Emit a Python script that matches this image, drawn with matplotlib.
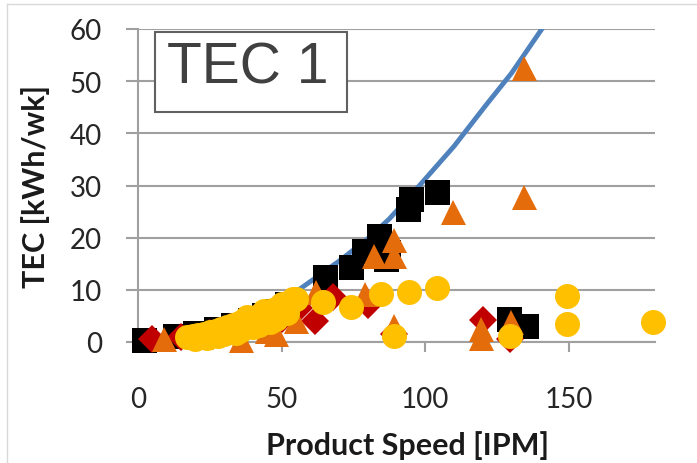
import matplotlib
matplotlib.use('Agg')
import matplotlib.pyplot as plt
from matplotlib.patches import Rectangle
from matplotlib.lines import Line2D

# black squares
bx = [2, 13, 20, 27, 33, 39, 44, 48, 52, 65, 74.3, 78.8, 84, 86.5, 87, 94, 95, 104, 129, 135]
by = [0.3, 1.2, 1.8, 2.5, 3.3, 4.2, 5.2, 6, 7.3, 12.5, 14.4, 17.5, 20.3, 16, 17.3, 25.5, 27.5, 28.8, 4.4, 3]

# red diamonds
rx = [5, 15, 25, 40, 50, 56, 61.5, 68, 80, 89, 120, 129.5]
ry = [0.6, 1, 1.8, 3, 4.5, 6.5, 4, 8.7, 7, 1.5, 4.2, 0.5]

# orange triangles
ox = [9, 22, 36, 45, 48, 55, 62, 79, 82, 89, 89, 89, 109.5, 119.5, 119.5, 130, 134.5, 134.5]
oy = [0.6, 1, 0.3, 2.2, 1.5, 4, 9.5, 9.2, 16.5, 19.5, 16.5, 3, 25, 2.5, 0.8, 3.8, 27.8, 52.5]

# yellow circles
yx = [17, 19, 21, 23, 25, 27, 29, 31, 33, 35, 37, 39, 41, 43, 45, 47, 49, 51, 53, 54,
      20, 24, 28, 30, 34, 36, 40, 42, 46, 48, 52, 38, 44, 50, 55,
      64.5, 74.3, 84.7, 89.2, 94.4, 104, 129.5, 149.3, 149.3, 179.2]
yy = [0.9, 1.1, 1.3, 1.6, 1.9, 2.2, 2.5, 2.9, 3.3, 3.6, 4.0, 4.4, 4.8, 5.3, 5.8, 6.2, 6.7, 7.1, 7.5, 8.2,
      0.5, 0.8, 1.2, 1.5, 1.8, 2.3, 2.8, 3.2, 3.8, 4.5, 5.5, 4.8, 6.0, 7.3, 8.3,
      7.7, 6.7, 9.2, 1.2, 9.6, 10.4, 1.2, 8.8, 3.5, 3.8]

# trend line
lx = [20, 30, 40, 50, 58, 70, 80, 87.5, 98, 110, 121, 130, 140.6]
ly = [1.5, 3, 5, 7.7, 10.8, 15.5, 19.8, 23.6, 30, 37.5, 45.3, 51.5, 60]

xticks = [0, 50, 100, 150]
yticks = [0, 10, 20, 30, 40, 50, 60]

W, H = 697, 464
fig = plt.figure(figsize=(W/100, H/100), dpi=100)
ax = fig.add_axes([138/W, 1-343/H, (655-138)/W, (343-30)/H])

grey = '#A0A0A0'
ax.plot(lx, ly, color='#4F81BD', lw=3.5, zorder=2)
ms = 18
ax.plot(bx, by, 's', color='black', ms=ms, mew=0, clip_on=False, zorder=3)
ax.plot(rx, ry, 'D', color='#C00000', ms=ms*0.8, mew=0, clip_on=False, zorder=4)
ax.plot(ox, oy, '^', color='#E46C0A', ms=ms, mew=0, clip_on=False, zorder=5)
ax.plot(yx, yy, 'o', color='#FFC000', ms=ms, mew=0, clip_on=False, zorder=6)

ax.set_xlim(0, 180)
ax.set_ylim(0, 60)
ax.set_xticks(xticks)
ax.set_yticks(yticks)
ax.yaxis.grid(True, color=grey, lw=1.5)
ax.set_axisbelow(True)
for s in ['top', 'right']:
    ax.spines[s].set_visible(False)
for s in ['left', 'bottom']:
    ax.spines[s].set_color(grey)
    ax.spines[s].set_linewidth(1.5)
ax.tick_params(axis='x', direction='out', length=7, width=1.5, color=grey, pad=25,
               labelsize=20, labelcolor='#262626')
ax.tick_params(axis='y', direction='out', length=9, width=1.5, color=grey, pad=17,
               labelsize=20, labelcolor='#262626')
for lab in ax.get_xticklabels() + ax.get_yticklabels():
    lab.set_family('Lato')

fig.text(407/W, 1-455/H, 'Product Speed [IPM]', ha='center', va='baseline',
         fontsize=22, fontweight='bold', family='Lato', color='#1a1a1a')
fig.text(36/W, 1-187/H, 'TEC [kWh/wk]', ha='center', va='center', rotation=90,
         fontsize=22, fontweight='bold', family='Lato', color='#1a1a1a')

# title box
fig.add_artist(Rectangle((155/W, 1-113/H), (347-155)/W, (113-33)/H, transform=fig.transFigure,
                         facecolor='white', edgecolor='#606060', lw=1.5, zorder=5))
fig.text(248/W, 1-69/H, 'TEC 1', ha='center', va='center', fontsize=41,
         family='Liberation Sans', color='#404040', zorder=6)

# outer frame, left and top edges
fig.add_artist(Line2D([7/W, 7/W], [0, 1-5/H], transform=fig.transFigure, color='#D9D9D9', lw=1))
fig.add_artist(Line2D([7/W, 1], [1-5/H, 1-5/H], transform=fig.transFigure, color='#D9D9D9', lw=1))

fig.savefig('out.png', dpi=100)
